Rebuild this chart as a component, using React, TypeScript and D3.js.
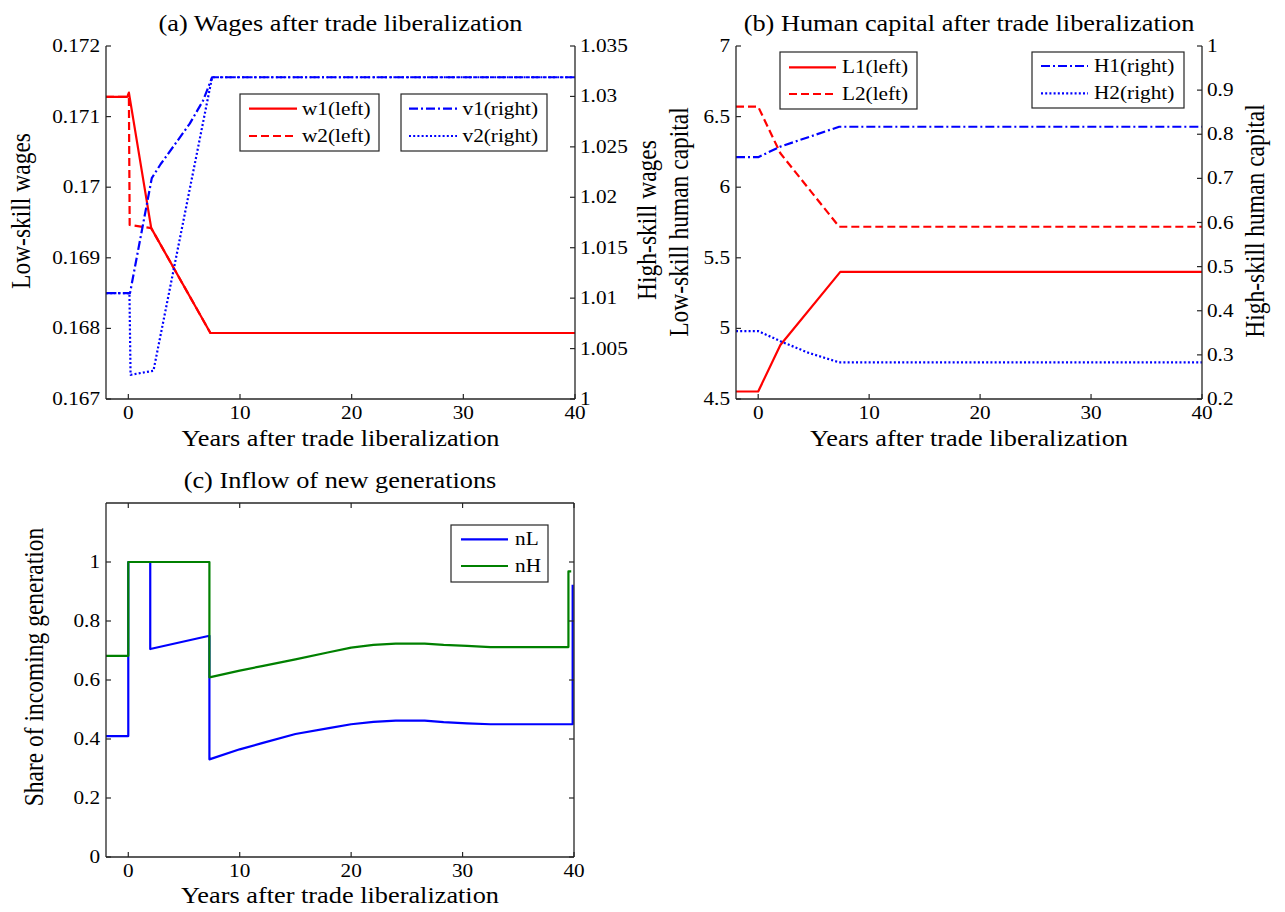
import React from "react";
import * as d3 from "d3";

// ---------------- DATA ----------------
const xTicks = [0, 10, 20, 30, 40];

// (a) wages
const w1Years = [-2, -0.1, 0.05, 2.05, 7.35, 40];
const w1Vals = [0.17128, 0.17128, 0.17134, 0.16942, 0.167935, 0.167935];
const w2Years = [-2, 0.05, 0.12, 2.05, 7.35, 40];
const w2Vals = [0.17128, 0.17128, 0.169465, 0.16942, 0.167935, 0.167935];
const v1Years = [-2, 0.15, 2.1, 2.9, 4.4, 5.5, 6.7, 7.5, 40];
const v1Vals = [1.0105, 1.0105, 1.0219, 1.0233, 1.0256, 1.0273, 1.0296, 1.0319, 1.0319];
const v2Years = [-2, 0.1, 0.2, 2.25, 7.5, 40];
const v2Vals = [1.0105, 1.0105, 1.0024, 1.0028, 1.0319, 1.0319];
const aLeftTicks = [0.167, 0.168, 0.169, 0.17, 0.171, 0.172];
const aRightTicks = [1, 1.005, 1.01, 1.015, 1.02, 1.025, 1.03, 1.035];

// (b) human capital
const L1Years = [-2, 0, 2.0, 7.4, 40];
const L1Vals = [4.553, 4.553, 4.882, 5.4, 5.4];
const L2Years = [-2, 0, 2.0, 7.3, 40];
const L2Vals = [6.57, 6.57, 6.24, 5.72, 5.72];
const H1Years = [-2, 0, 2.0, 7.3, 40];
const H1Vals = [0.748, 0.748, 0.772, 0.817, 0.817];
const H2Years = [-2, 0, 2.0, 4.5, 7.3, 40];
const H2Vals = [0.354, 0.354, 0.331, 0.305, 0.283, 0.283];
const bLeftTicks = [4.5, 5, 5.5, 6, 6.5, 7];
const bRightTicks = [0.2, 0.3, 0.4, 0.5, 0.6, 0.7, 0.8, 0.9, 1];

// (c) inflow
const nLYears = [-2, 0, 0, 1.97, 1.97, 7.28, 7.28, 10, 12, 15, 18, 20, 22, 24, 26.6, 28.3, 30.4, 32.5, 39.88, 39.88];
const nLVals = [0.41, 0.41, 1.0, 1.0, 0.705, 0.75, 0.331, 0.365, 0.386, 0.417, 0.437, 0.45, 0.458, 0.462, 0.462, 0.457, 0.453, 0.45, 0.45, 0.923];
const nHYears = [-2, 0, 0, 7.28, 7.28, 10, 12, 15, 18, 20, 22, 24, 26.6, 28.3, 30.4, 32.5, 39.5, 39.5, 39.75];
const nHVals = [0.682, 0.682, 1.0, 1.0, 0.609, 0.632, 0.647, 0.67, 0.694, 0.71, 0.719, 0.7235, 0.7235, 0.719, 0.716, 0.7115, 0.7115, 0.968, 0.968];
const cTicks = [0, 0.2, 0.4, 0.6, 0.8, 1];

// ---------------- STYLE ----------------
const FONT = "'Liberation Serif', 'Times New Roman', Times, serif";
const RED = "#ff0000";
const BLUE = "#0000ff";
const GREEN = "#008000";
const AX = "#262626";
const LW = 2.2;
const DASH = "8,4";
const DASHDOT = "9,3,2,3";
const DOT = "2,2.2";

const fmt = (v: number) => String(+v.toFixed(4));

function Txt({ x, y, size, sx = 1.15, anchor = "start", rotate = false, children }: any) {
  const tr = rotate
    ? `translate(${x},${y}) scale(${sx},1) rotate(-90)`
    : `translate(${x},${y}) scale(${sx},1)`;
  return (
    <text transform={tr} fontSize={size} textAnchor={anchor} fontFamily={FONT} fill="#000">
      {children}
    </text>
  );
}

type Series = { xs: number[]; ys: number[]; side: "left" | "right"; color: string; dash?: string };
type LegendItem = { label: string; color: string; dash?: string };
type Legend = { x: number; y: number; w: number; h: number; lx0: number; lx1: number; tx: number; rows: number[]; items: LegendItem[] };

function Panel({ box, leftDomain, leftTicks, rightDomain, rightTicks, series, legends, title, titleY, xLabelY, frame }: any) {
  const x = d3.scaleLinear().domain([-2, 40]).range([box.l, box.r]);
  const yl = d3.scaleLinear().domain(leftDomain).range([box.b, box.t]);
  const yr = rightDomain ? d3.scaleLinear().domain(rightDomain).range([box.b, box.t]) : null;
  const TK = 5;
  return (
    <g>
      {(series as Series[]).map((s, i) => {
        const ys = s.side === "left" ? yl : (yr as any);
        const line = d3
          .line<number>()
          .x((_, j) => x(s.xs[j]))
          .y((v) => ys(v));
        return (
          <path key={i} d={line(s.ys) || ""} fill="none" stroke={s.color} strokeWidth={LW} strokeDasharray={s.dash || undefined} strokeLinejoin="round" />
        );
      })}
      {/* axes */}
      <line x1={box.l} x2={box.l} y1={box.t} y2={box.b} stroke={AX} strokeWidth={1.3} />
      <line x1={box.l} x2={box.r} y1={box.b} y2={box.b} stroke={AX} strokeWidth={1.3} />
      {(yr || frame) && <line x1={box.r} x2={box.r} y1={box.t} y2={box.b} stroke={AX} strokeWidth={1.3} />}
      {frame && <line x1={box.l} x2={box.r} y1={box.t} y2={box.t} stroke={AX} strokeWidth={1.3} />}
      {xTicks.map((t) => (
        <g key={"x" + t}>
          <line x1={x(t)} x2={x(t)} y1={box.b} y2={box.b - TK} stroke={AX} strokeWidth={1.2} />
          {frame && <line x1={x(t)} x2={x(t)} y1={box.t} y2={box.t + TK} stroke={AX} strokeWidth={1.2} />}
          <Txt x={x(t)} y={box.b + 20} size={18} sx={1.18} anchor="middle">
            {fmt(t)}
          </Txt>
        </g>
      ))}
      {(leftTicks as number[]).map((t) => (
        <g key={"l" + t}>
          <line x1={box.l} x2={box.l + TK} y1={yl(t)} y2={yl(t)} stroke={AX} strokeWidth={1.2} />
          {frame && <line x1={box.r} x2={box.r - TK} y1={yl(t)} y2={yl(t)} stroke={AX} strokeWidth={1.2} />}
          <Txt x={box.l - 6} y={yl(t) + 6} size={18} sx={1.18} anchor="end">
            {fmt(t)}
          </Txt>
        </g>
      ))}
      {yr &&
        (rightTicks as number[]).map((t) => (
          <g key={"r" + t}>
            <line x1={box.r} x2={box.r - TK} y1={yr(t)} y2={yr(t)} stroke={AX} strokeWidth={1.2} />
            <Txt x={box.r + 5} y={yr(t) + 6} size={18} sx={1.18} anchor="start">
              {fmt(t)}
            </Txt>
          </g>
        ))}
      {(legends as Legend[]).map((lg, i) => (
        <g key={"lg" + i}>
          <rect x={lg.x} y={lg.y} width={lg.w} height={lg.h} fill="#fff" stroke={AX} strokeWidth={1.2} />
          {lg.items.map((it, j) => (
            <g key={j}>
              <line x1={lg.lx0} x2={lg.lx1} y1={lg.rows[j]} y2={lg.rows[j]} stroke={it.color} strokeWidth={LW} strokeDasharray={it.dash || undefined} />
              <Txt x={lg.tx} y={lg.rows[j] + 6} size={18.5} sx={1.15}>
                {it.label}
              </Txt>
            </g>
          ))}
        </g>
      ))}
      <Txt x={(box.l + box.r) / 2} y={titleY} size={23.5} sx={1.12} anchor="middle">
        {title}
      </Txt>
      <Txt x={(box.l + box.r) / 2} y={xLabelY} size={23.5} sx={1.12} anchor="middle">
        Years after trade liberalization
      </Txt>
    </g>
  );
}

export default function App() {
  const boxA = { l: 106, r: 575, t: 46, b: 399 };
  const boxB = { l: 736, r: 1202, t: 46, b: 399 };
  const boxC = { l: 106, r: 574, t: 503, b: 857 };

  const seriesA: Series[] = [
    { xs: w1Years, ys: w1Vals, side: "left", color: RED },
    { xs: w2Years, ys: w2Vals, side: "left", color: RED, dash: DASH },
    { xs: v1Years, ys: v1Vals, side: "right", color: BLUE, dash: DASHDOT },
    { xs: v2Years, ys: v2Vals, side: "right", color: BLUE, dash: DOT },
  ];
  const seriesB: Series[] = [
    { xs: L1Years, ys: L1Vals, side: "left", color: RED },
    { xs: L2Years, ys: L2Vals, side: "left", color: RED, dash: DASH },
    { xs: H1Years, ys: H1Vals, side: "right", color: BLUE, dash: DASHDOT },
    { xs: H2Years, ys: H2Vals, side: "right", color: BLUE, dash: DOT },
  ];
  const seriesC: Series[] = [
    { xs: nLYears, ys: nLVals, side: "left", color: BLUE },
    { xs: nHYears, ys: nHVals, side: "left", color: GREEN },
  ];

  const legA: Legend[] = [
    { x: 240, y: 94, w: 139, h: 57, lx0: 249, lx1: 297, tx: 302, rows: [108.7, 136], items: [{ label: "w1(left)", color: RED }, { label: "w2(left)", color: RED, dash: DASH }] },
    { x: 401, y: 94, w: 146, h: 57, lx0: 409, lx1: 457, tx: 462.5, rows: [108.7, 136], items: [{ label: "v1(right)", color: BLUE, dash: DASHDOT }, { label: "v2(right)", color: BLUE, dash: DOT }] },
  ];
  const legB: Legend[] = [
    { x: 780, y: 52, w: 137, h: 57, lx0: 789, lx1: 836, tx: 842, rows: [67.3, 94], items: [{ label: "L1(left)", color: RED }, { label: "L2(left)", color: RED, dash: DASH }] },
    { x: 1032, y: 52, w: 152, h: 56, lx0: 1041, lx1: 1088, tx: 1094, rows: [66, 93.3], items: [{ label: "H1(right)", color: BLUE, dash: DASHDOT }, { label: "H2(right)", color: BLUE, dash: DOT }] },
  ];
  const legC: Legend[] = [
    { x: 451, y: 525, w: 97, h: 57, lx0: 461, lx1: 508, tx: 515, rows: [539.3, 566], items: [{ label: "nL", color: BLUE }, { label: "nH", color: GREEN }] },
  ];

  return (
    <svg width={1285} height={912} style={{ position: "absolute", left: 0, top: 0, background: "#fff" }}>
      <rect x={0} y={0} width={1285} height={912} fill="#fff" />
      <Panel box={boxA} leftDomain={[0.167, 0.172]} leftTicks={aLeftTicks} rightDomain={[1, 1.035]} rightTicks={aRightTicks} series={seriesA} legends={legA} title="(a) Wages after trade liberalization" titleY={30.5} xLabelY={446} />
      <Panel box={boxB} leftDomain={[4.5, 7]} leftTicks={bLeftTicks} rightDomain={[0.2, 1]} rightTicks={bRightTicks} series={seriesB} legends={legB} title="(b) Human capital after trade liberalization" titleY={30.5} xLabelY={446} />
      <Panel box={boxC} leftDomain={[0, 1.2]} leftTicks={cTicks} series={seriesC} legends={legC} title="(c) Inflow of new generations" titleY={488} xLabelY={903} frame />
      {/* y-axis labels */}
      <Txt x={30} y={211} size={23.5} sx={1.12} anchor="middle" rotate>
        Low-skill wages
      </Txt>
      <Txt x={656} y={220} size={23.5} sx={1.12} anchor="middle" rotate>
        High-skill wages
      </Txt>
      <Txt x={688} y={222} size={23.5} sx={1.12} anchor="middle" rotate>
        Low-skill human capital
      </Txt>
      <Txt x={1264} y={221} size={23.5} sx={1.12} anchor="middle" rotate>
        High-skill human capital
      </Txt>
      <Txt x={43} y={667} size={23.5} sx={1.12} anchor="middle" rotate>
        Share of incoming generation
      </Txt>
    </svg>
  );
}
